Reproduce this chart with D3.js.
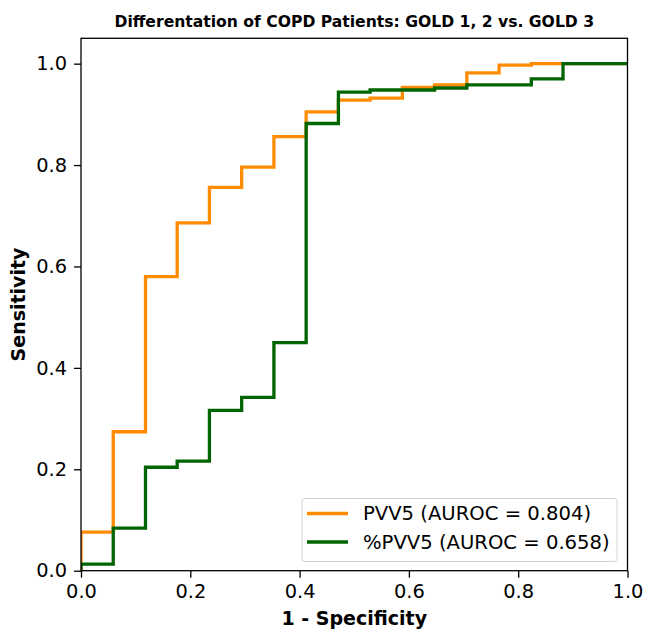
<!DOCTYPE html>
<html>
<head>
<meta charset="utf-8">
<script src="https://cdn.jsdelivr.net/npm/d3@7"></script>
<style>
  body { margin: 0; background: #fff; }
  svg text { font-family: "DejaVu Sans", sans-serif; fill: #000; }
</style>
</head>
<body>
<div id="graf"></div>
<script>
// I. Datos
fprPVV5 = [0, 0, 0.059, 0.118, 0.176, 0.235, 0.294, 0.353, 0.412, 0.471, 0.529, 0.588, 0.647, 0.706, 0.765, 0.824, 1.0]
tprPVV5 = [0, 0.076, 0.274, 0.580, 0.686, 0.756, 0.796, 0.856, 0.905, 0.928, 0.932, 0.953, 0.958, 0.982, 0.997, 1.0, 1.0]

fprPctPVV5 = [0, 0, 0.059, 0.118, 0.176, 0.235, 0.294, 0.353, 0.412, 0.471, 0.529, 0.647, 0.706, 0.824, 0.882, 1.0]
tprPctPVV5 = [0, 0.013, 0.084, 0.204, 0.216, 0.316, 0.342, 0.450, 0.882, 0.944, 0.948, 0.952, 0.958, 0.970, 1.0, 1.0]

ticksX = [0, 0.2, 0.4, 0.6, 0.8, 1.0]
ticksY = [0, 0.2, 0.4, 0.6, 0.8, 1.0]

etiquetas = ['PVV5 (AUROC = 0.804)', '%PVV5 (AUROC = 0.658)']
colores = ['#ff8c00', '#006400']

titulo = 'Differentation of COPD Patients: GOLD 1, 2 vs. GOLD 3'
tituloX = '1 - Specificity'
tituloY = 'Sensitivity'

// II. Configuración
anchoTotal = 646
altoTotal = 630
margins = { top: 38.3, left: 81, right: 18.5, bottom: 59.3 }
ancho = anchoTotal - margins.left - margins.right
alto = altoTotal - margins.top - margins.bottom

svg = d3.select('#graf').append('svg')
  .attr('width', anchoTotal)
  .attr('height', altoTotal)

g = svg.append('g')
  .attr('transform', `translate(${margins.left}, ${margins.top})`)

x = d3.scaleLinear().domain([0, 1]).range([0, ancho])
y = d3.scaleLinear().domain([0, 1.05]).range([alto, 0])

g.append('clipPath').attr('id', 'recorte')
  .append('rect').attr('width', ancho).attr('height', alto)

// III. Ejes
xAxis = d3.axisBottom(x).tickValues(ticksX).tickFormat(d3.format('.1f'))
  .tickSize(7).tickPadding(6.5)
yAxis = d3.axisLeft(y).tickValues(ticksY).tickFormat(d3.format('.1f'))
  .tickSize(7).tickPadding(7)

gx = g.append('g').attr('transform', `translate(0, ${alto})`).call(xAxis)
gy = g.append('g').call(yAxis)

;[gx, gy].forEach(a => {
  a.select('.domain').remove()
  a.selectAll('line').attr('stroke', '#000').attr('stroke-width', 1.3)
  a.selectAll('text').style('font-size', '19.4px').attr('fill', '#000')
})

// IV. Curvas ROC
linea = d3.line()
  .x(d => x(d[0]))
  .y(d => y(d[1]))
  .curve(d3.curveStepAfter)

series = [
  d3.zip(fprPVV5, tprPVV5),
  d3.zip(fprPctPVV5, tprPctPVV5)
]

g.append('g').attr('clip-path', 'url(#recorte)')
  .selectAll('path')
  .data(series)
  .enter()
  .append('path')
    .attr('d', linea)
    .attr('fill', 'none')
    .attr('stroke', (d, i) => colores[i])
    .attr('stroke-width', 3.3)
    .attr('stroke-linejoin', 'miter')

// marco
g.append('rect')
  .attr('width', ancho)
  .attr('height', alto)
  .attr('fill', 'none')
  .attr('stroke', '#000')
  .attr('stroke-width', 1.3)

// V. Leyenda
leyenda = svg.append('g').attr('transform', 'translate(302, 498.5)')
leyenda.append('rect')
  .attr('width', 315)
  .attr('height', 63)
  .attr('rx', 3)
  .attr('fill', '#fff')
  .attr('fill-opacity', 0.8)
  .attr('stroke', '#d0d0d0')

items = leyenda.selectAll('.item')
  .data(etiquetas)
  .enter()
  .append('g')
    .attr('class', 'item')
    .attr('transform', (d, i) => `translate(0, ${15 + i * 28.5})`)

items.append('line')
  .attr('x1', 5).attr('x2', 46)
  .attr('stroke', (d, i) => colores[i])
  .attr('stroke-width', 3.3)

items.append('text')
  .attr('x', 61)
  .attr('dy', '0.35em')
  .style('font-size', '19.6px')
  .text(d => d)

// VI. Títulos
svg.append('text')
  .attr('x', margins.left + ancho / 2)
  .attr('y', 27)
  .attr('text-anchor', 'middle')
  .style('font-size', '15.6px')
  .style('font-weight', 'bold')
  .text(titulo)

svg.append('text')
  .attr('x', margins.left + ancho / 2)
  .attr('y', 625)
  .attr('text-anchor', 'middle')
  .style('font-size', '19px')
  .style('font-weight', 'bold')
  .text(tituloX)

svg.append('text')
  .attr('transform', `translate(25, ${margins.top + alto / 2}) rotate(-90)`)
  .attr('text-anchor', 'middle')
  .style('font-size', '19px')
  .style('font-weight', 'bold')
  .text(tituloY)
</script>
</body>
</html>
